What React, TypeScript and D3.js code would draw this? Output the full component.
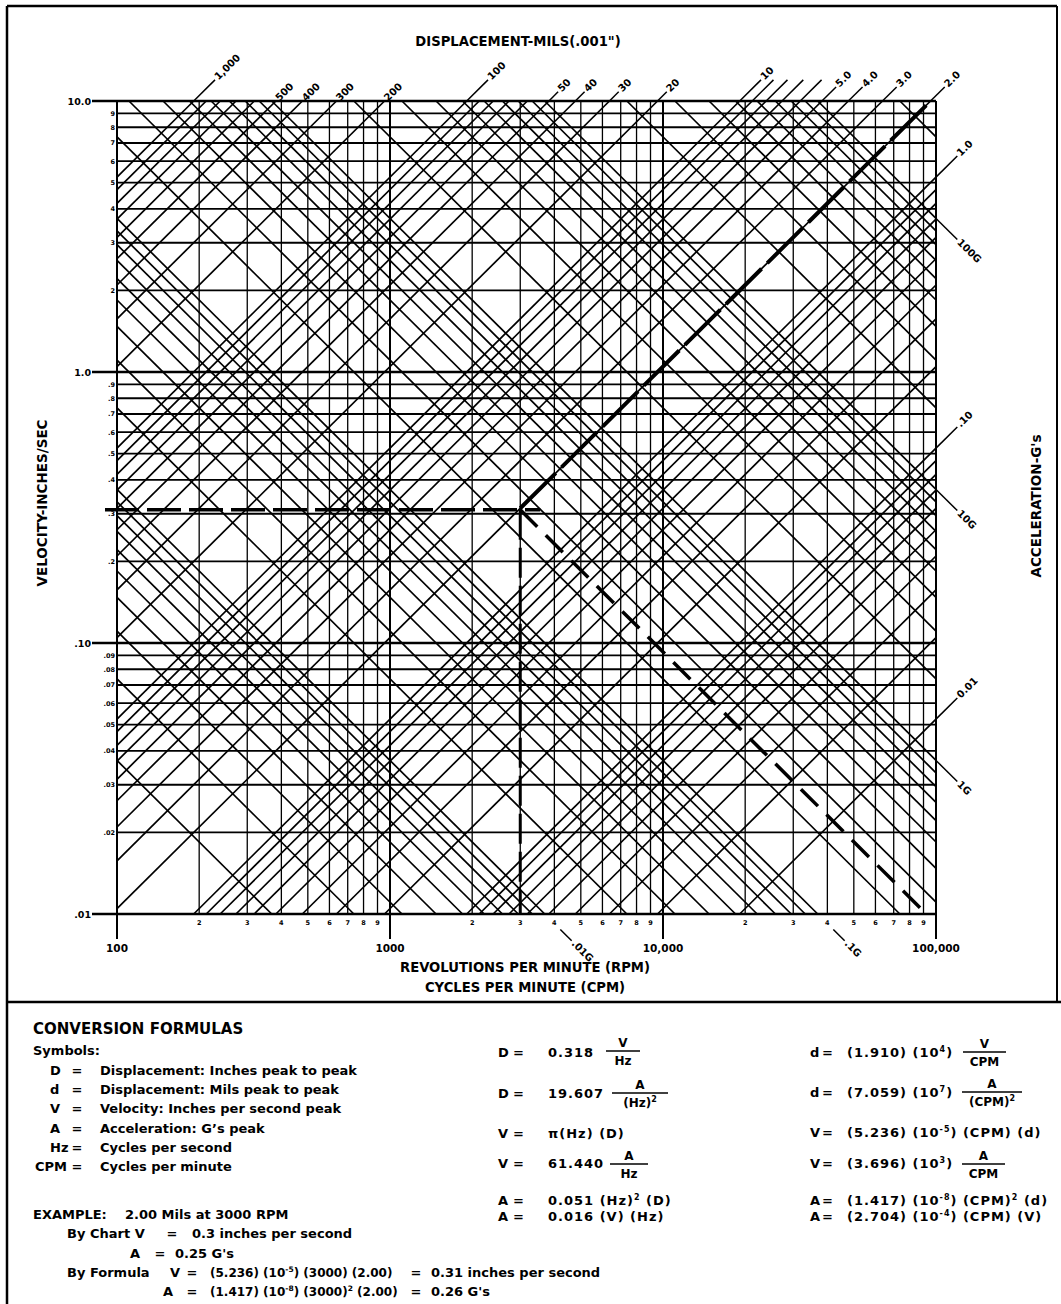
import React from 'react';
import * as d3 from 'd3';

// ---- chart values ----
const rpmDecades = [100, 1000, 10000, 100000];
const rpmDecadeLabels = ['100', '1000', '10,000', '100,000'];
const minorSteps = [2, 3, 4, 5, 6, 7, 8, 9];

const velocityDecades = [10, 1, 0.1, 0.01];
const velocityDecadeLabels = ['10.0', '1.0', '.10', '.01'];
const velocityMinorLabels = [
  ['2', '3', '4', '5', '6', '7', '8', '9'],
  ['.2', '.3', '.4', '.5', '.6', '.7', '.8', '.9'],
  ['.02', '.03', '.04', '.05', '.06', '.07', '.08', '.09'],
];

// constant displacement lines (mils peak to peak)
const displacementMils = [
  0.01, 0.02, 0.03, 0.04, 0.05, 0.06, 0.07, 0.08, 0.09,
  0.1, 0.2, 0.3, 0.4, 0.5, 0.6, 0.7, 0.8, 0.9,
  1, 2, 3, 4, 5, 6, 7, 8, 9,
  10, 20, 30, 40, 50, 60, 70, 80, 90,
  100, 200, 300, 400, 500, 600, 700, 800, 900,
  1000,
];
// constant acceleration lines (G's peak)
const accelerationG = [
  0.001, 0.002, 0.003, 0.004, 0.005, 0.006, 0.007, 0.008, 0.009,
  0.01, 0.02, 0.03, 0.04, 0.05, 0.06, 0.07, 0.08, 0.09,
  0.1, 0.2, 0.3, 0.4, 0.5, 0.6, 0.7, 0.8, 0.9,
  1, 2, 3, 4, 5, 6, 7, 8, 9,
  10, 20, 30, 40, 50, 60, 70, 80, 90,
  100, 200,
];

// labels on the top edge: [mils, text, leader kind]
const topDispLabels: [number, string, string][] = [
  [1000, '1,000', 'long'], [500, '500', 'none'], [400, '400', 'none'], [300, '300', 'none'],
  [200, '200', 'none'], [100, '100', 'long'], [50, '50', 'short'], [40, '40', 'short'],
  [30, '30', 'short'], [20, '20', 'short'], [10, '10', 'long'], [9, '', 'long'],
  [8, '', 'long'], [7, '', 'long'], [6, '', 'long'], [5, '5.0', 'mid'], [4, '4.0', 'mid'],
  [3, '3.0', 'mid'], [2, '2.0', 'mid'],
];
const rightDispLabels: [number, string][] = [[1, '1.0'], [0.1, '.10'], [0.01, '0.01']];
const rightAccLabels: [number, string][] = [[100, '100G'], [10, '10G'], [1, '1G']];
const bottomAccLabels: [number, string][] = [[0.01, '.01G'], [0.1, '.1G']];

// worked example: 2.00 mils at 3000 RPM
const exampleMils = 2;
const exampleRpm = 3000;
const exampleVelocity = 0.31;
const exampleG = 0.25;

const symbolRows: [string, string][] = [
  ['D', 'Displacement: Inches peak to peak'],
  ['d', 'Displacement: Mils peak to peak'],
  ['V', 'Velocity: Inches per second peak'],
  ['A', 'Acceleration: G\u2019s peak'],
  ['Hz', 'Cycles per second'],
  ['CPM', 'Cycles per minute'],
];

const W = 1061;
const H = 1304;
const FONT = '"DejaVu Sans", Verdana, sans-serif';

const x = d3.scaleLog().domain([100, 100000]).range([117, 936]);
const y = d3.scaleLog().domain([0.01, 10]).range([914, 101]);

const K_DISP = Math.PI / 60 / 1000; // in/s per (CPM * mil)
const K_ACC = (386.1 * 60) / (2 * Math.PI); // (in/s * CPM) per G

type Pt = [number, number];

function dispSeg(d: number): [Pt, Pt] | null {
  const lo = Math.max(100, 0.01 / (K_DISP * d));
  const hi = Math.min(100000, 10 / (K_DISP * d));
  if (lo >= hi) return null;
  return [[x(lo), y(K_DISP * d * lo)], [x(hi), y(K_DISP * d * hi)]];
}

function accSeg(a: number): [Pt, Pt] | null {
  const lo = Math.max(100, (K_ACC * a) / 10);
  const hi = Math.min(100000, (K_ACC * a) / 0.01);
  if (lo >= hi) return null;
  return [[x(lo), y((K_ACC * a) / lo)], [x(hi), y((K_ACC * a) / hi)]];
}

function unit(a: Pt, b: Pt): Pt {
  const dx = b[0] - a[0];
  const dy = b[1] - a[1];
  const l = Math.hypot(dx, dy);
  return [dx / l, dy / l];
}

// leader line + rotated label running out of an edge
function EdgeLabel({ from, to, gap, lead, text }: { from: Pt; to: Pt; gap: number; lead: number; text: string }) {
  const u = unit(from, to);
  const p0: Pt = [to[0] + u[0] * gap, to[1] + u[1] * gap];
  const p1: Pt = [to[0] + u[0] * (gap + lead), to[1] + u[1] * (gap + lead)];
  const t: Pt = [p1[0] + u[0] * 2, p1[1] + u[1] * 2];
  const ang = (Math.atan2(u[1], u[0]) * 180) / Math.PI;
  return (
    <g>
      {lead > 0 && <line x1={p0[0]} y1={p0[1]} x2={p1[0]} y2={p1[1]} stroke="#000" strokeWidth={1.5} />}
      {text && (
        <text
          transform={`translate(${t[0]},${t[1]}) rotate(${ang})`}
          fontSize={10}
          dominantBaseline="middle"
        >
          {text}
        </text>
      )}
    </g>
  );
}

// "10^{-5}" style superscripts
function Sup({ s, size = 8 }: { s: string; size?: number }) {
  const parts = s.split(/\^\{([^}]*)\}/);
  const out: React.ReactNode[] = [];
  parts.forEach((p, i) => {
    if (i % 2 === 0) {
      if (p) out.push(<tspan key={i} dy={i === 0 ? 0 : 5}>{p}</tspan>);
    } else {
      out.push(<tspan key={i} dy={-5} fontSize={size}>{p}</tspan>);
    }
  });
  return <>{out}</>;
}

function Frac({ x0, x1, ly, num, den }: { x0: number; x1: number; ly: number; num: string; den: string }) {
  const cx = (x0 + x1) / 2;
  return (
    <g>
      <line x1={x0} x2={x1} y1={ly} y2={ly} stroke="#000" strokeWidth={1.3} />
      <text x={cx} y={ly - 4} textAnchor="middle" fontSize={12}>{num}</text>
      <text x={cx} y={ly + 14} textAnchor="middle" fontSize={12}><Sup s={den} /></text>
    </g>
  );
}

function Row({ lx, ex, vx, by, left, right, children }: any) {
  return (
    <g>
      <text x={lx} y={by}>{left}</text>
      <text x={ex} y={by}>=</text>
      <text x={vx} y={by} letterSpacing={1}><Sup s={right} /></text>
      {children}
    </g>
  );
}

export default function App() {
  const xMinorVals = rpmDecades.slice(0, 3).flatMap((d) => minorSteps.map((m) => d * m));
  const yMinorVals = velocityDecades.slice(1).flatMap((d) => minorSteps.map((m) => d * m));

  const exTopD = dispSeg(exampleMils)!;
  const accBottomRpm = (exampleG * K_ACC) / 0.01;

  return (
    <svg
      width={W}
      height={H}
      viewBox={`0 0 ${W} ${H}`}
      style={{ position: 'absolute', left: 0, top: 0, background: '#fff' }}
      fontFamily={FONT}
      fontWeight={700}
    >
      <rect width={W} height={H} fill="#fff" />
      {/* outer frame */}
      <line x1={7} x2={1057} y1={6} y2={6} stroke="#000" strokeWidth={2.5} />
      <line x1={7} x2={7} y1={6} y2={H} stroke="#000" strokeWidth={2.5} />
      <line x1={1057} x2={1057} y1={6} y2={1002} stroke="#000" strokeWidth={2} />
      <line x1={7} x2={W} y1={1002} y2={1002} stroke="#000" strokeWidth={2.5} />

      {/* grid */}
      <g stroke="#000">
        {xMinorVals.map((v) => (
          <line key={'vx' + v} x1={x(v)} x2={x(v)} y1={y(10)} y2={y(0.01)} strokeWidth={1.3} />
        ))}
        {yMinorVals.map((v) => (
          <line key={'hy' + v} x1={x(100)} x2={x(100000)} y1={y(v)} y2={y(v)} strokeWidth={1.9} />
        ))}
        {displacementMils.map((d) => {
          const s = dispSeg(d);
          return s ? <line key={'d' + d} x1={s[0][0]} y1={s[0][1]} x2={s[1][0]} y2={s[1][1]} strokeWidth={1.7} /> : null;
        })}
        {accelerationG.map((a) => {
          const s = accSeg(a);
          return s ? <line key={'a' + a} x1={s[0][0]} y1={s[0][1]} x2={s[1][0]} y2={s[1][1]} strokeWidth={1.7} /> : null;
        })}
        {velocityDecades.map((v) => (
          <line key={'hm' + v} x1={x(100) - 25} x2={x(100000)} y1={y(v)} y2={y(v)} strokeWidth={2.3} />
        ))}
        {rpmDecades.map((v) => (
          <line key={'vm' + v} x1={x(v)} x2={x(v)} y1={y(10)} y2={y(0.01) + 25} strokeWidth={2} />
        ))}
      </g>

      {/* worked example */}
      <g stroke="#000" fill="none" strokeLinecap="butt">
        <line
          x1={x(100) - 12}
          x2={x(exampleRpm) + 20}
          y1={y(exampleVelocity)}
          y2={y(exampleVelocity)}
          strokeWidth={3.5}
          strokeDasharray="34 8"
        />
        <line
          x1={x(exampleRpm)}
          x2={x(exampleRpm)}
          y1={y(exampleVelocity)}
          y2={y(0.01)}
          strokeWidth={3}
          strokeDasharray="30 8"
        />
        <line
          x1={x(exampleRpm)}
          y1={y(K_DISP * exampleMils * exampleRpm)}
          x2={exTopD[1][0]}
          y2={exTopD[1][1]}
          strokeWidth={4}
          strokeDasharray="50 8"
        />
        <line
          x1={x(exampleRpm)}
          y1={y(exampleVelocity)}
          x2={x(accBottomRpm)}
          y2={y(0.01)}
          strokeWidth={3.5}
          strokeDasharray="24 12"
        />
      </g>

      {/* velocity axis labels */}
      <g fontSize={9.5}>
        {velocityDecades.map((v, i) => (
          <text key={'vl' + v} x={91} y={y(v) + 3.5} textAnchor="end">{velocityDecadeLabels[i]}</text>
        ))}
      </g>
      <g fontSize={6.5}>
        {velocityDecades.slice(0, 3).map((dec, i) =>
          minorSteps.map((m, j) => (
            <text key={'vm' + i + j} x={115} y={y((dec / 10) * m) + 2.5} textAnchor="end">
              {velocityMinorLabels[i][j]}
            </text>
          ))
        )}
      </g>

      {/* rpm axis labels */}
      <g fontSize={10.5} textAnchor="middle">
        {rpmDecades.map((v, i) => (
          <text key={'rl' + v} x={x(v)} y={952}>{rpmDecadeLabels[i]}</text>
        ))}
      </g>
      <g fontSize={6.5} textAnchor="middle">
        {xMinorVals.map((v, i) => (
          <text key={'rm' + v} x={x(v)} y={925}>{minorSteps[i % 8]}</text>
        ))}
      </g>

      {/* line labels */}
      {topDispLabels.map(([d, t, kind]) => {
        const s = dispSeg(d)!;
        const lead = kind === 'long' ? 30 : kind === 'mid' ? 20 : kind === 'short' ? 13 : 0;
        return <EdgeLabel key={'tl' + d} from={s[0]} to={s[1]} gap={0} lead={lead} text={t} />;
      })}
      {rightDispLabels.map(([d, t]) => {
        const s = dispSeg(d)!;
        return <EdgeLabel key={'rd' + d} from={s[0]} to={s[1]} gap={0} lead={30} text={t} />;
      })}
      {rightAccLabels.map(([a, t]) => {
        const s = accSeg(a)!;
        return <EdgeLabel key={'ra' + a} from={s[0]} to={s[1]} gap={0} lead={30} text={t} />;
      })}
      {bottomAccLabels.map(([a, t]) => {
        const s = accSeg(a)!;
        return <EdgeLabel key={'ba' + a} from={s[0]} to={s[1]} gap={22} lead={16} text={t} />;
      })}

      {/* axis titles */}
      <text x={518} y={46} fontSize={13.2} textAnchor="middle">DISPLACEMENT-MILS(.001")</text>
      <text transform="translate(47,503) rotate(-90)" fontSize={13.5} textAnchor="middle">VELOCITY-INCHES/SEC</text>
      <text transform="translate(1041,506) rotate(-90)" fontSize={13.5} textAnchor="middle">ACCELERATION-G's</text>
      <text x={525} y={972} fontSize={13.2} textAnchor="middle">REVOLUTIONS PER MINUTE (RPM)</text>
      <text x={525} y={992} fontSize={13.2} textAnchor="middle">CYCLES PER MINUTE (CPM)</text>

      {/* conversion formulas */}
      <g fontSize={13}>
        <text x={33} y={1034} fontSize={15}>CONVERSION FORMULAS</text>
        <text x={33} y={1055}>Symbols:</text>
        {symbolRows.map(([s, desc], i) => (
          <g key={'sym' + s}>
            <text x={s === 'CPM' ? 35 : 50} y={1075 + i * 19.2}>{s}</text>
            <text x={77} y={1075 + i * 19.2} textAnchor="middle">=</text>
            <text x={100} y={1075 + i * 19.2}>{desc}</text>
          </g>
        ))}
        <text x={33} y={1219}>EXAMPLE:</text>
        <text x={125} y={1219}>2.00 Mils at 3000 RPM</text>

        <text x={67} y={1238}>By Chart V</text>
        <text x={172} y={1238} textAnchor="middle">=</text>
        <text x={192} y={1238}>0.3 inches per second</text>

        <text x={130} y={1258}>A</text>
        <text x={160} y={1258} textAnchor="middle">=</text>
        <text x={175} y={1258}>0.25 G's</text>

        <text x={67} y={1277}>By Formula</text>
        <text x={170} y={1277}>V</text>
        <text x={192} y={1277} textAnchor="middle">=</text>
        <text x={210} y={1277} xmlSpace="preserve" fontSize={12}>
          <Sup s="(5.236) (10^{-5}) (3000) (2.00)" size={7.5} />
        </text>
        <text x={416} y={1277} textAnchor="middle">=</text>
        <text x={431} y={1277}>0.31 inches per second</text>

        <text x={163} y={1296}>A</text>
        <text x={192} y={1296} textAnchor="middle">=</text>
        <text x={210} y={1296} xmlSpace="preserve" fontSize={12}>
          <Sup s="(1.417) (10^{-8}) (3000)^{2} (2.00)" size={7.5} />
        </text>
        <text x={416} y={1296} textAnchor="middle">=</text>
        <text x={431} y={1296}>0.26 G's</text>
      </g>

      <g xmlSpace="preserve" fontSize={13}>
        <Row lx={498} ex={513} vx={548} by={1057} left="D" right="0.318">
          <Frac x0={606} x1={640} ly={1051} num="V" den="Hz" />
        </Row>
        <Row lx={498} ex={513} vx={548} by={1098} left="D" right="19.607">
          <Frac x0={612} x1={668} ly={1093} num="A" den="(Hz)^{2}" />
        </Row>
        <Row lx={498} ex={513} vx={548} by={1138} left="V" right={'\u03c0(Hz) (D)'} />
        <Row lx={498} ex={513} vx={548} by={1168} left="V" right="61.440">
          <Frac x0={610} x1={648} ly={1164} num="A" den="Hz" />
        </Row>
        <Row lx={498} ex={513} vx={548} by={1205} left="A" right="0.051 (Hz)^{2} (D)" />
        <Row lx={498} ex={513} vx={548} by={1221} left="A" right="0.016 (V) (Hz)" />

        <Row lx={810} ex={822} vx={847} by={1057} left="d" right="(1.910)  (10^{4})">
          <Frac x0={963} x1={1006} ly={1052} num="V" den="CPM" />
        </Row>
        <Row lx={810} ex={822} vx={847} by={1097} left="d" right="(7.059)  (10^{7})">
          <Frac x0={962} x1={1022} ly={1092} num="A" den="(CPM)^{2}" />
        </Row>
        <Row lx={810} ex={822} vx={847} by={1137} left="V" right="(5.236)  (10^{-5})  (CPM)  (d)" />
        <Row lx={810} ex={822} vx={847} by={1168} left="V" right="(3.696)  (10^{3})">
          <Frac x0={962} x1={1005} ly={1164} num="A" den="CPM" />
        </Row>
        <Row lx={810} ex={822} vx={847} by={1205} left="A" right="(1.417)  (10^{-8})  (CPM)^{2}  (d)" />
        <Row lx={810} ex={822} vx={847} by={1221} left="A" right="(2.704)  (10^{-4})  (CPM)  (V)" />
      </g>
    </svg>
  );
}
